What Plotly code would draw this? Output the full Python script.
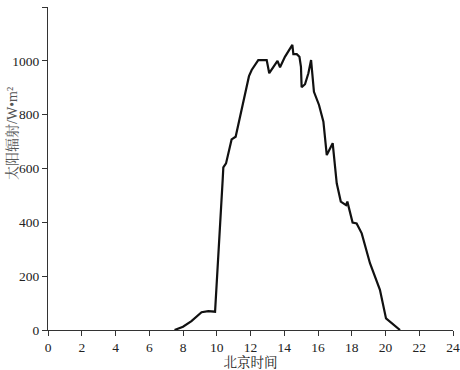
import plotly.graph_objects as go

hours = [7.5, 8.0, 8.5, 8.8, 9.1, 9.5, 9.9, 10.35, 10.39, 10.55, 10.88, 11.12, 11.91, 12.07,
         12.46, 12.96, 13.11, 13.6, 13.75, 14.04, 14.48, 14.54, 14.74, 14.9, 14.99, 15.03,
         15.23, 15.43, 15.59, 15.76, 16.06, 16.32, 16.52, 16.87, 17.11, 17.35, 17.66, 17.74,
         18.05, 18.29, 18.59, 19.08, 19.67, 20.03, 20.86]
radiation = [0, 12, 33, 50, 66, 70, 68, 557, 604, 619, 708, 718, 943, 966,
             1003, 1003, 954, 1000, 976, 1015, 1059, 1025, 1025, 1015, 978, 902,
             913, 954, 1003, 885, 836, 774, 650, 694, 545, 477, 464, 477,
             399, 396, 359, 248, 149, 43, 0]

x_ticks = list(range(0, 25, 2))
y_ticks = list(range(0, 1201, 200))

font_family = "'Liberation Serif', 'Noto Serif CJK SC', 'Noto Sans CJK SC', serif"

fig = go.Figure()
fig.add_trace(go.Scatter(x=hours, y=radiation, mode="lines",
                         line=dict(color="#111111", width=2.2), showlegend=False))

fig.update_layout(
    width=460, height=370,
    margin=dict(l=48, r=7, t=7, b=40, autoexpand=False),
    paper_bgcolor="white", plot_bgcolor="white",
    font=dict(family=font_family, size=13.5, color="#222222"),
    xaxis=dict(range=[0, 24], tickvals=x_ticks, ticktext=[str(v) for v in x_ticks],
               showline=True, linecolor="#333333", linewidth=1, ticks="outside",
               ticklen=5, tickcolor="#333333", showgrid=False, zeroline=False,
               automargin=False,
               title=dict(text="北京时间", standoff=2, font=dict(size=13.5))),
    yaxis=dict(range=[0, 1200], tickvals=y_ticks, ticktext=[str(v) for v in y_ticks],
               showline=True, linecolor="#333333", linewidth=1, ticks="outside",
               ticklen=5, tickcolor="#333333", showgrid=False, zeroline=False,
               automargin=False),
    annotations=[dict(text="太阳辐射/W•m²", textangle=-90, xref="paper", yref="paper",
                      x=-0.089, y=0.61, xanchor="center", yanchor="middle",
                      showarrow=False, font=dict(size=14, color="#555555"))],
)

fig.write_html("out.html")
